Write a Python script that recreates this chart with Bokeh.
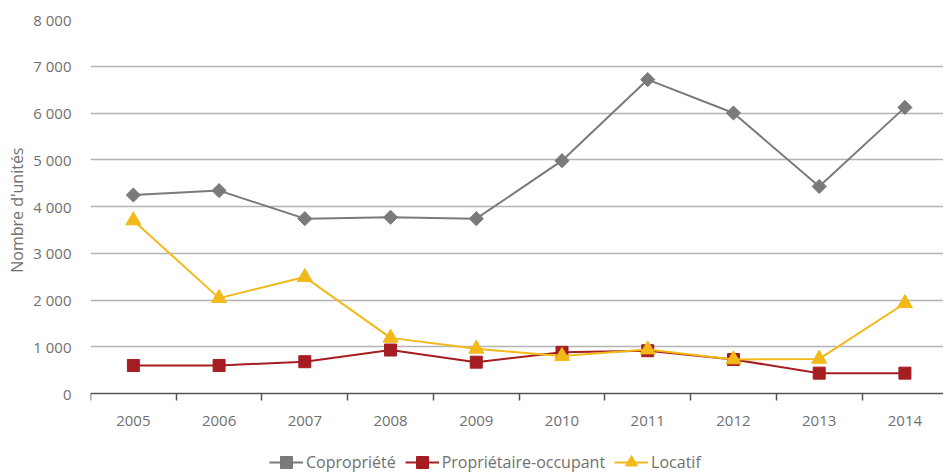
import math
from bokeh.plotting import figure
from bokeh.models import (Range1d, FixedTicker, Legend, LegendItem, ColumnDataSource, Title)
from bokeh.embed import file_html
from bokeh.resources import INLINE

years = ["2005", "2006", "2007", "2008", "2009", "2010", "2011", "2012", "2013", "2014"]
copropriete = [4245, 4340, 3740, 3770, 3740, 4980, 6715, 6000, 4428, 6120]
proprietaire_occupant = [600, 600, 680, 930, 670, 880, 915, 727, 435, 435]
locatif = [3700, 2040, 2490, 1190, 955, 800, 940, 727, 740, 1930]
y_ticks = [0, 1000, 2000, 3000, 4000, 5000, 6000, 7000, 8000]
y_tick_labels = ["0", "1 000", "2 000", "3 000", "4 000", "5 000", "6 000", "7 000", "8 000"]
series_names = ["Copropriété", "Propriétaire-occupant", "Locatif"]
y_title = "Nombre d'unités"

FONT = "Open Sans"
TXT = "#707070"

H = 474
TOP = 19
BOTTOM_AXIS = 393
px_per_unit = (BOTTOM_AXIS - TOP) / 8000.0
y_start = -(H - BOTTOM_AXIS) / px_per_unit

x_idx = list(range(len(years)))
src = ColumnDataSource(dict(x=x_idx, c=copropriete, p=proprietaire_occupant, l=locatif))

p = figure(width=943, height=H, output_backend="svg", toolbar_location=None,
           x_range=Range1d(-0.5, 9.45), y_range=Range1d(y_start, 8000),
           min_border_left=90, min_border_right=0, min_border_top=TOP, min_border_bottom=0)
p.outline_line_color = None
p.background_fill_color = "white"
p.border_fill_color = "white"

# y axis
p.yaxis.ticker = FixedTicker(ticks=y_ticks)
p.yaxis.major_label_overrides = {t: s for t, s in zip(y_ticks, y_tick_labels)}
p.yaxis.axis_line_color = None
p.yaxis.major_tick_line_color = None
p.yaxis.minor_tick_line_color = None
p.yaxis.major_label_standoff = 13
p.yaxis.major_label_text_font = FONT
p.yaxis.major_label_text_font_size = "15px"
p.yaxis.major_label_text_color = TXT

# y axis title, placed level with the 0-8000 span
ytitle = Title(text=y_title, align="right", offset=128, standoff=6,
               text_font=FONT, text_font_size="16px", text_font_style="normal",
               text_color=TXT)
p.add_layout(ytitle, "left")

# x axis, pinned at y = 0
p.xaxis.fixed_location = 0
p.xaxis.ticker = FixedTicker(ticks=x_idx, minor_ticks=[i - 0.5 for i in range(len(years) + 1)])
p.xaxis.major_label_overrides = {i: y for i, y in enumerate(years)}
p.xaxis.major_tick_line_color = None
p.xaxis.major_tick_out = 0
p.xaxis.major_tick_in = 0
p.xaxis.minor_tick_line_color = "#555555"
p.xaxis.minor_tick_out = 7
p.xaxis.minor_tick_in = 0
p.xaxis.axis_line_color = "#555555"
p.xaxis.axis_line_width = 1.5
p.xaxis.minor_tick_line_width = 1.5
p.xaxis.major_label_standoff = 15
p.xaxis.major_label_text_font = FONT
p.xaxis.major_label_text_font_size = "15px"
p.xaxis.major_label_text_color = TXT

p.xgrid.grid_line_color = None
p.ygrid.ticker = FixedTicker(ticks=y_ticks[1:])
p.ygrid.grid_line_color = "#b3b3b3"
p.ygrid.grid_line_width = 1.5

GRAY = "#7a7a7a"
RED = "#a51d21"
YEL = "#f2b918"

l1 = p.line("x", "c", source=src, line_color=GRAY, line_width=2)
m1 = p.scatter("x", "c", source=src, marker="square", angle=math.pi / 4, size=10,
               fill_color=GRAY, line_color=GRAY)
l2 = p.line("x", "p", source=src, line_color=RED, line_width=2)
m2 = p.scatter("x", "p", source=src, marker="square", size=12, fill_color=RED, line_color=RED)
l3 = p.line("x", "l", source=src, line_color=YEL, line_width=2)
m3 = p.scatter("x", "l", source=src, marker="triangle", size=15, fill_color=YEL, line_color=YEL)

legend = Legend(items=[LegendItem(label=series_names[0], renderers=[l1, m1]),
                       LegendItem(label=series_names[1], renderers=[l2, m2]),
                       LegendItem(label=series_names[2], renderers=[l3, m3])],
                orientation="horizontal", location=(179, -3),
                glyph_width=34, glyph_height=30, label_standoff=3, spacing=9,
                padding=0, margin=0, border_line_color=None,
                background_fill_alpha=0,
                label_text_font=FONT, label_text_font_size="16px",
                label_text_color=TXT, label_height=30)
p.add_layout(legend, "center")

open("out.html", "w").write(file_html(p, INLINE))
